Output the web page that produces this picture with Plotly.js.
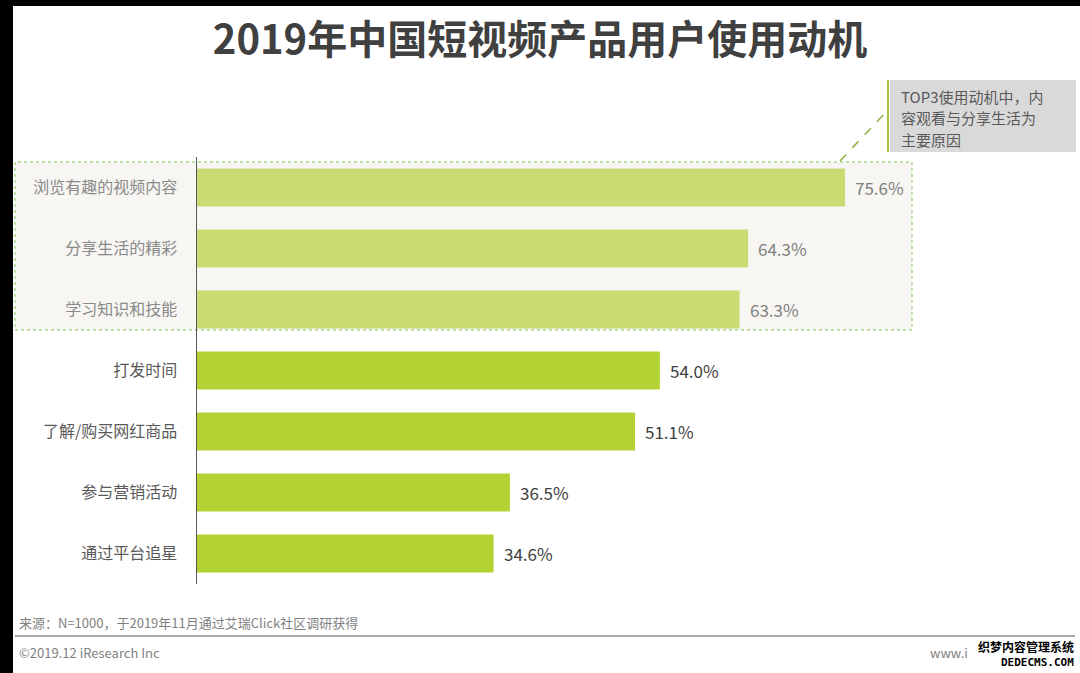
<!DOCTYPE html>
<html>
<head>
<meta charset="utf-8">
<script src="https://cdn.plot.ly/plotly-3.0.1.min.js"></script>
<style>html,body{margin:0;padding:0;background:#fff;}#chart{width:1080px;height:673px;}</style>
</head>
<body>
<div id="chart"></div>
<script>
const categories = ["浏览有趣的视频内容","分享生活的精彩","学习知识和技能","打发时间","了解/购买网红商品","参与营销活动","通过平台追星"];
const values = [75.6, 64.3, 63.3, 54.0, 51.1, 36.5, 34.6];
const highlighted = [true, true, true, false, false, false, false];
const titleText = "2019年中国短视频产品用户使用动机";
const noteLines = ["TOP3使用动机中，内", "容观看与分享生活为", "主要原因"];
const sourceText = "来源：N=1000，于2019年11月通过艾瑞Click社区调研获得";
const copyrightText = "©2019.12 iResearch Inc";
const siteText = "www.i";
const watermarkLines = ["织梦内容管理系统", "DEDECMS.COM"];

const FONT = '"Noto Sans CJK SC", "Microsoft YaHei", sans-serif';
const L = 197, R = 43, T = 157, B = 89, W = 1080, H = 673;
const pw = W - L - R, ph = H - T - B;
const px = x => (x - L) / pw;
const py = y => (H - B - y) / ph;

const barColors = highlighted.map(h => h ? '#c9dc74' : '#b3d334');
const labelColors = highlighted.map(h => h ? '#8a8a8a' : '#595959');
const valueColors = highlighted.map(h => h ? '#7f7f7f' : '#404040');

const trace = {
  type: 'bar', orientation: 'h',
  x: values, y: categories,
  marker: {color: barColors},
  width: 0.62,
  hoverinfo: 'skip'
};

const annotations = values.map((v, i) => ({
  x: v, y: categories[i], xref: 'x', yref: 'y',
  text: v.toFixed(1) + '%', showarrow: false,
  xanchor: 'left', yanchor: 'middle', xshift: 8,
  font: {family: FONT, size: 17, color: valueColors[i]}
}));

noteLines.forEach((t, i) => annotations.push({
  xref: 'paper', yref: 'paper', x: px(900), y: py(96 + i * 22), xanchor: 'left', yanchor: 'middle',
  text: t, showarrow: false, borderpad: 0, font: {family: FONT, size: 15, color: '#595959'}
}));

annotations.push(
  {xref: 'paper', yref: 'paper', x: px(17), y: py(622), xanchor: 'left', yanchor: 'middle',
   text: sourceText, showarrow: false, font: {family: FONT, size: 13, color: '#7f7f7f'}},
  {xref: 'paper', yref: 'paper', x: px(17), y: py(652), xanchor: 'left', yanchor: 'middle',
   text: copyrightText, showarrow: false, font: {family: FONT, size: 13, color: '#7f7f7f'}},
  {xref: 'paper', yref: 'paper', x: px(929), y: py(652), xanchor: 'left', yanchor: 'middle',
   text: siteText, showarrow: false, borderpad: 0, font: {family: FONT, size: 13, color: '#7f7f7f'}},
  {xref: 'paper', yref: 'paper', x: px(1075), y: py(646), xanchor: 'right', yanchor: 'middle',
   text: '<b>' + watermarkLines[0] + '</b>', showarrow: false, borderpad: 0,
   font: {family: FONT, size: 12, color: '#000000'}},
  {xref: 'paper', yref: 'paper', x: px(1075), y: py(662), xanchor: 'right', yanchor: 'middle',
   text: '<b>' + watermarkLines[1] + '</b>', showarrow: false, borderpad: 0,
   font: {family: '"DejaVu Sans Mono", monospace', size: 11, color: '#000000'}}
);

const shapes = [
  {type: 'rect', xref: 'paper', yref: 'paper', x0: px(15), x1: px(912), y0: py(330), y1: py(162),
   fillcolor: '#f7f6f2', line: {color: '#a9d98f', width: 1.5, dash: 'dot'}, layer: 'below'},
  {type: 'rect', xref: 'paper', yref: 'paper', x0: px(890), x1: px(1076), y0: py(152), y1: py(80),
   fillcolor: '#d9d9d9', line: {width: 0}},
  {type: 'line', xref: 'paper', yref: 'paper', x0: px(888), x1: px(888), y0: py(152), y1: py(80),
   line: {color: '#a4c339', width: 2}},
  {type: 'line', xref: 'paper', yref: 'paper', x0: px(840), x1: px(887), y0: py(161), y1: py(111),
   line: {color: '#8db03a', width: 1.5, dash: 'dash'}},
  {type: 'line', xref: 'paper', yref: 'paper', x0: px(15), x1: px(1075), y0: py(636), y1: py(636),
   line: {color: '#8c8c8c', width: 1.5}},
  {type: 'rect', xref: 'paper', yref: 'paper', x0: px(0), x1: px(13), y0: py(673), y1: py(0),
   fillcolor: '#000000', line: {width: 0}},
  {type: 'rect', xref: 'paper', yref: 'paper', x0: px(0), x1: px(1080), y0: py(6), y1: py(0),
   fillcolor: '#000000', line: {width: 0}}
];

const layout = {
  width: W, height: H,
  margin: {l: L, r: R, t: T, b: B, pad: 0},
  paper_bgcolor: '#ffffff', plot_bgcolor: 'rgba(0,0,0,0)',
  showlegend: false,
  title: {text: '<b>' + titleText + '</b>', x: 0.5, xref: 'container', xanchor: 'center',
          y: 1 - 40 / H, yref: 'container', yanchor: 'middle',
          font: {family: FONT, size: 40, color: '#404040'}},
  xaxis: {range: [0, 98], visible: false, fixedrange: true},
  yaxis: {type: 'category', categoryorder: 'array', categoryarray: categories,
          range: [6.5, -0.5], showline: true, linecolor: '#595959', linewidth: 1.5,
          showgrid: false, zeroline: false, ticks: '', ticklabelstandoff: 15,
          tickmode: 'array', tickvals: categories,
          ticktext: categories.map((c, i) => '<span style="color:' + labelColors[i] + '">' + c + '</span>'),
          tickfont: {family: FONT, size: 16, color: '#595959'}, fixedrange: true},
  shapes: shapes,
  annotations: annotations
};

Plotly.newPlot('chart', [trace], layout, {displayModeBar: false, staticPlot: true});
</script>
</body>
</html>
